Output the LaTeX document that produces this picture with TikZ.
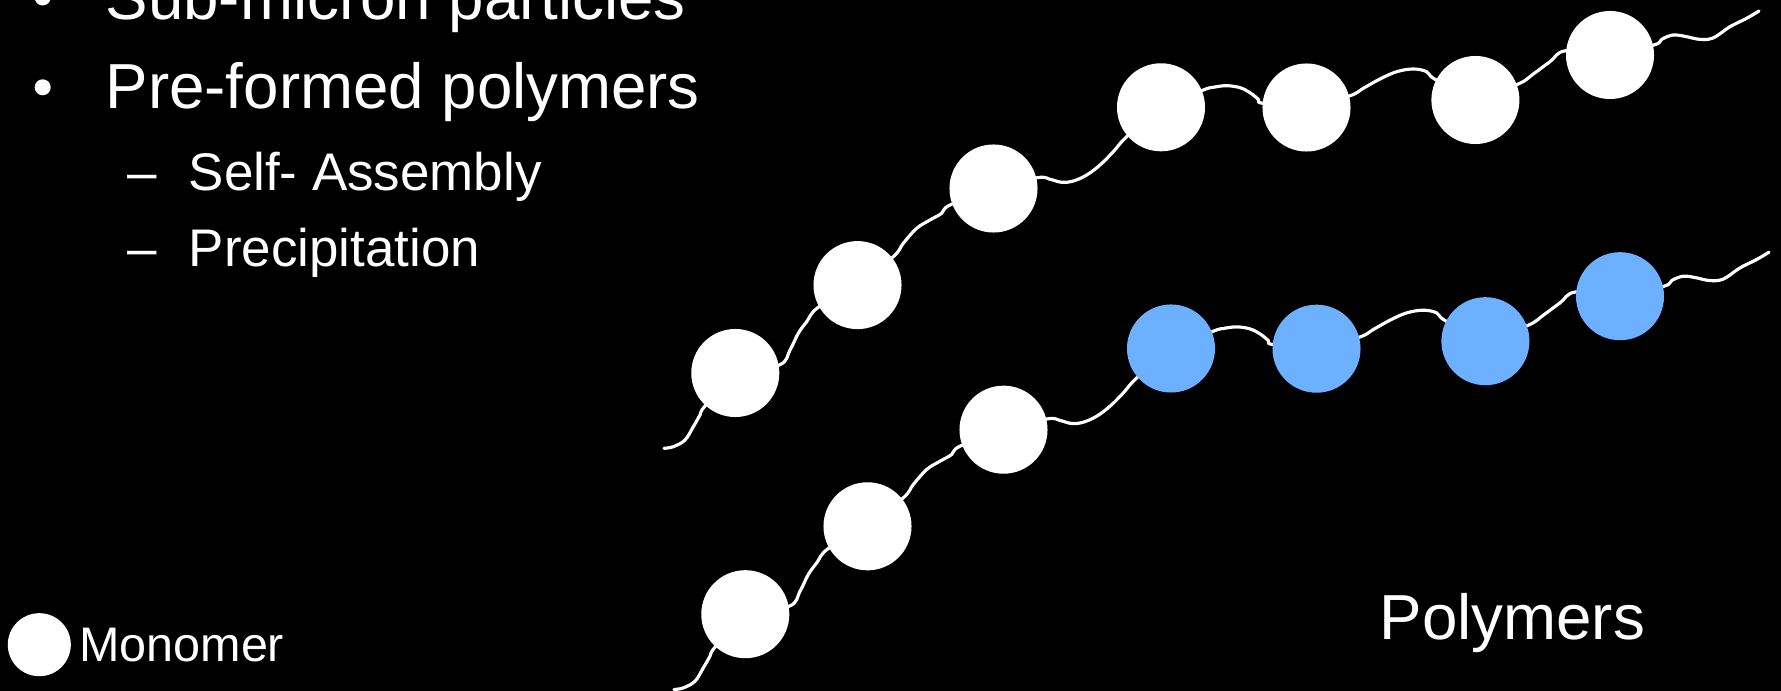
\documentclass[tikz,border=0pt]{standalone}
\usepackage{fontspec}
\setmainfont{Liberation Sans}
\definecolor{mblue}{RGB}{108,176,255}
\pgfdeclarelayer{bg}
\pgfsetlayers{bg,main}
\tikzset{
  mono/.style={circle, fill=white, minimum size=0.88cm, inner sep=0pt, outer sep=0pt},
  bluemono/.style={mono, fill=mblue},
  bulletdot/.style={circle, fill=white, minimum size=0.16cm, inner sep=0pt},
  link/.style={draw=white, line width=0.9pt, line cap=round, line join=round},
  bigtxt/.style={anchor=base west, inner sep=0pt, text=white, font=\fontsize{18.1}{20}\selectfont},
  subtxt/.style={anchor=base west, inner sep=0pt, text=white, font=\fontsize{15.05}{18}\selectfont},
  legtxt/.style={anchor=base west, inner sep=0pt, text=white, font=\fontsize{13.8}{16}\selectfont},
}
\newcommand\polychain[3]{%
  \node[#2] (#11) at (735.3,373) {};
  \node[#2] (#12) at (857.5,285.1) {};
  \node[#2] (#13) at (993.5,188.5) {};
  \node[#3] (#14) at (1161,107.3) {};
  \node[#3] (#15) at (1306.5,107.5) {};
  \node[#3] (#16) at (1475.4,100) {};
  \node[#3] (#17) at (1610,55) {};
  \coordinate (#1s) at (664,448.3);
  \coordinate (#1e) at (1759,11);
  \begin{pgfonlayer}{bg}
    \draw[link] plot[smooth, tension=0.6] coordinates {(#1s) (673.3,446.7) (685,440) (693.3,426.7) (700,415) (705,406) (#11)};
    \draw[link] plot[smooth, tension=0.6] coordinates {(#11) (779.3,365) (790,350) (798.3,333.3) (806.7,321.7) (818.3,307.3) (#12)};
    \draw[link] plot[smooth, tension=0.6] coordinates {(#12) (893.3,256.7) (903.3,243.3) (916.7,228.3) (930,220) (941.7,213.3) (950,205) (#13)};
    \draw[link] plot[smooth, tension=0.6] coordinates {(#13) (1037.3,177.7) (1050,179.3) (1061.7,182.3) (1073.3,181) (1086.7,175) (1100,165) (1113.3,151.7) (1126.7,136.7) (#14)};
    \draw[link] plot[smooth, tension=0.6] coordinates {(#14) (1203.3,90) (1213.3,87.3) (1226.7,85.7) (1240,87.7) (1250,92.7) (1258.3,99.3) (1262.7,103.3) (#15)};
    \draw[link] plot[smooth, tension=0.6] coordinates {(#15) (1349.3,96) (1363.3,88.3) (1380,79) (1396.7,71.7) (1413.3,69) (1426.7,71.7) (1435,79.3) (#16)};
    \draw[link] plot[smooth, tension=0.6] coordinates {(#16) (1518.3,84) (1533.3,74) (1550,61.7) (1566,50.7) (#17)};
    \draw[link] plot[smooth, tension=0.6] coordinates {(#17) (1654,45) (1661.7,39.3) (1673.3,35) (1686.7,36.7) (1696.7,39) (1708.3,39.3) (1716.7,36) (1730,26.7) (1746.7,18.3) (#1e)};
  \end{pgfonlayer}
}
\begin{document}
\begin{tikzpicture}[x=0.01cm, y=-0.01cm]
\useasboundingbox (0,0) rectangle (1781,691);
\begin{pgfonlayer}{bg}
\fill[black] (0,0) rectangle (1781,691);
\end{pgfonlayer}
\clip (0,0) rectangle (1781,691);

% bullet list
\node[bulletdot] (bu1) at (42.7,-2.5) {};
\node[bulletdot] (bu2) at (42.7,87.3) {};
\node[bigtxt] (l1) at (105,19.5) {Sub-micron particles};
\node[bigtxt] (l2) at (105,108.3) {Pre-formed polymers};
\node[subtxt] (d1) at (127,191) {–};
\node[subtxt] (l3) at (188,191) {Self- Assembly};
\node[subtxt] (d2) at (127,267) {–};
\node[subtxt] (l4) at (188,267) {Precipitation};

% legend
\node[mono, minimum size=0.63cm] (legc) at (39.3,644.7) {};
\node[legtxt] (legt) at (78.5,661) {Monomer};

% polymers
\polychain{t}{mono}{mono}
\begin{scope}[shift={(10,241.2)}]
\polychain{b}{mono}{bluemono}
\end{scope}

\node[bigtxt] (poly) at (1379,639) {Polymers};
\end{tikzpicture}
\end{document}
